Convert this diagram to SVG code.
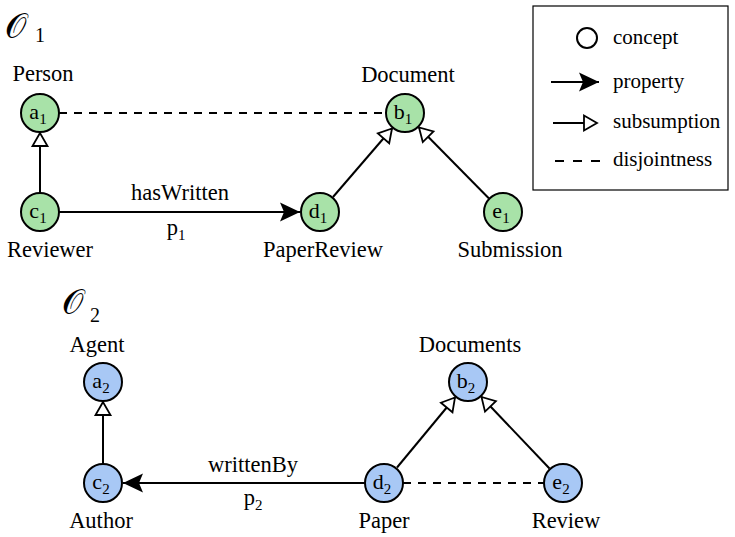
<svg xmlns="http://www.w3.org/2000/svg" width="735" height="537" viewBox="0 0 735 537" font-family="'Liberation Serif', 'DejaVu Serif', serif">
  <style>
    text { font-family: "Liberation Serif", "DejaVu Serif", serif; fill: #000; }
    .lbl { font-size: 22.5px; text-anchor: middle; }
    .nid { font-size: 22px; text-anchor: middle; }
    .leg { font-size: 21px; }
    .sub { font-size: 15px; }
    .onto { font-size: 34px; font-family: "DejaVu Serif", "Noto Sans", serif; }
    .g1 { fill: #a8e2a8; stroke: #000; stroke-width: 2; }
    .g2 { fill: #a8c8f5; stroke: #000; stroke-width: 2; }
    .edge { stroke: #000; stroke-width: 2; fill: none; }
    .dash { stroke-dasharray: 8 7; }
    .isa { marker-end: url(#hollow); }
    .prop { marker-end: url(#solid); }
  </style>
  <defs>
    <marker id="hollow" markerUnits="userSpaceOnUse" viewBox="-16 -10 18 20" markerWidth="18" markerHeight="20" refX="0" refY="0" orient="auto">
      <path d="M0,0 L-13,-7.5 L-13,7.5 Z" fill="#fff" stroke="#000" stroke-width="1.8" stroke-linejoin="miter"/>
    </marker>
    <marker id="solid" markerUnits="userSpaceOnUse" viewBox="-22 -11 24 22" markerWidth="24" markerHeight="22" refX="0" refY="0" orient="auto">
      <path d="M0,0 L-20,-9.5 L-16,0 L-20,9.5 Z" fill="#000"/>
    </marker>
  </defs>

  <!-- ontology headings -->
  <text class="onto" x="5" y="38">𝒪</text>
  <text x="35" y="42" font-size="20">1</text>
  <text class="onto" x="62" y="314">𝒪</text>
  <text x="90" y="322" font-size="20">2</text>

  <!-- connectors -->
  <g id="connectors">
    <line class="edge dash" x1="59" y1="113" x2="386" y2="113"/>
    <line class="edge isa" x1="40" y1="192" x2="40" y2="133"/>
    <line class="edge prop" x1="59" y1="212" x2="300" y2="212"/>
    <line class="edge isa" x1="333" y1="197" x2="392" y2="128.5"/>
    <line class="edge isa" x1="489" y1="198.5" x2="419" y2="127.5"/>

    <line class="edge isa" x1="103" y1="463" x2="103" y2="402"/>
    <line class="edge prop" x1="365" y1="483" x2="123" y2="483"/>
    <line class="edge dash" x1="403" y1="483" x2="544" y2="483"/>
    <line class="edge isa" x1="397" y1="467.5" x2="455" y2="397.5"/>
    <line class="edge isa" x1="549.5" y1="468.5" x2="481.5" y2="397"/>
  </g>

  <!-- ontology 1 -->
  <g id="a1">
    <circle class="g1" cx="40" cy="113" r="19"/>
    <text class="nid" x="38" y="119">a<tspan class="sub" dy="5">1</tspan></text>
    <text class="lbl" x="43" y="81">Person</text>
  </g>
  <g id="b1">
    <circle class="g1" cx="405" cy="113" r="19"/>
    <text class="nid" x="403" y="119">b<tspan class="sub" dy="5">1</tspan></text>
    <text class="lbl" x="408" y="82">Document</text>
  </g>
  <g id="c1">
    <circle class="g1" cx="40" cy="212" r="19"/>
    <text class="nid" x="38" y="218">c<tspan class="sub" dy="5">1</tspan></text>
    <text class="lbl" x="50" y="257">Reviewer</text>
  </g>
  <g id="d1">
    <circle class="g1" cx="320" cy="212" r="19"/>
    <text class="nid" x="318" y="218">d<tspan class="sub" dy="5">1</tspan></text>
    <text class="lbl" x="323" y="257">PaperReview</text>
  </g>
  <g id="e1">
    <circle class="g1" cx="503" cy="212" r="19"/>
    <text class="nid" x="501" y="218">e<tspan class="sub" dy="5">1</tspan></text>
    <text class="lbl" x="510" y="257">Submission</text>
  </g>
  <g id="p1">
    <text class="lbl" x="180" y="200">hasWritten</text>
    <text class="lbl" x="176" y="235">p<tspan class="sub" dy="5">1</tspan></text>
  </g>

  <!-- ontology 2 -->
  <g id="a2">
    <circle class="g2" cx="103" cy="382" r="19"/>
    <text class="nid" x="101" y="388">a<tspan class="sub" dy="5">2</tspan></text>
    <text class="lbl" x="97" y="352">Agent</text>
  </g>
  <g id="b2">
    <circle class="g2" cx="468" cy="382" r="19"/>
    <text class="nid" x="466" y="388">b<tspan class="sub" dy="5">2</tspan></text>
    <text class="lbl" x="470" y="352">Documents</text>
  </g>
  <g id="c2">
    <circle class="g2" cx="103" cy="483" r="19"/>
    <text class="nid" x="101" y="489">c<tspan class="sub" dy="5">2</tspan></text>
    <text class="lbl" x="101" y="528">Author</text>
  </g>
  <g id="d2">
    <circle class="g2" cx="384" cy="483" r="19"/>
    <text class="nid" x="382" y="489">d<tspan class="sub" dy="5">2</tspan></text>
    <text class="lbl" x="384" y="528">Paper</text>
  </g>
  <g id="e2">
    <circle class="g2" cx="563" cy="483" r="19"/>
    <text class="nid" x="561" y="489">e<tspan class="sub" dy="5">2</tspan></text>
    <text class="lbl" x="566" y="528">Review</text>
  </g>
  <g id="p2">
    <text class="lbl" x="253" y="472">writtenBy</text>
    <text class="lbl" x="253" y="505">p<tspan class="sub" dy="5">2</tspan></text>
  </g>

  <!-- legend -->
  <g id="legend">
    <rect x="533" y="6" width="195" height="184" fill="#fff" stroke="#000" stroke-width="1.2"/>
    <circle cx="587" cy="38" r="10" fill="none" stroke="#000" stroke-width="2"/>
    <text class="leg" x="613" y="44">concept</text>
    <line class="edge prop" x1="551" y1="82" x2="599" y2="82"/>
    <text class="leg" x="613" y="88">property</text>
    <line class="edge isa" x1="553" y1="123" x2="597" y2="123"/>
    <text class="leg" x="613" y="128">subsumption</text>
    <line class="edge" x1="555" y1="161" x2="600" y2="161" stroke-dasharray="9 9"/>
    <text class="leg" x="613" y="166">disjointness</text>
  </g>
</svg>
